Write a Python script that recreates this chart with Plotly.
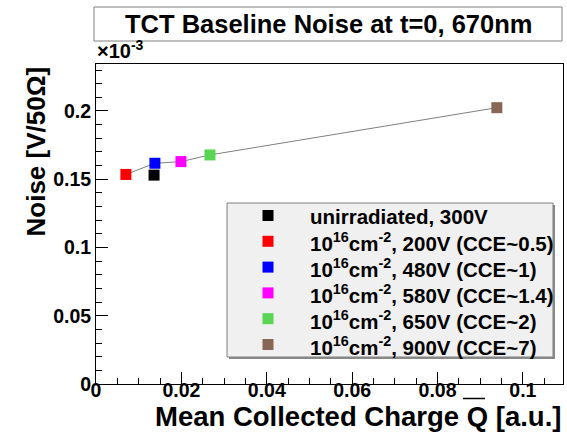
import plotly.graph_objects as go

# ---- data (noise in units of 1e-3 V/50 Ohm) ----
labels = [
    "unirradiated, 300V",
    "10<sup>16</sup>cm<sup>-2</sup>, 200V (CCE~0.5)",
    "10<sup>16</sup>cm<sup>-2</sup>, 480V (CCE~1)",
    "10<sup>16</sup>cm<sup>-2</sup>, 580V (CCE~1.4)",
    "10<sup>16</sup>cm<sup>-2</sup>, 650V (CCE~2)",
    "10<sup>16</sup>cm<sup>-2</sup>, 900V (CCE~7)",
]
mean_charge = [0.0136, 0.0070, 0.0138, 0.0199, 0.0267, 0.0939]
noise_e3 = [0.1530, 0.1535, 0.1617, 0.1629, 0.1678, 0.2024]
colors = ["#000000", "#ff0000", "#0000ff", "#ff00ff", "#59d454", "#876656"]
line_members = [1, 2, 3, 4, 5]  # irradiated points joined by the line

FONT = "Liberation Sans"

fig = go.Figure()

fig.add_trace(go.Scatter(
    x=[mean_charge[i] for i in line_members],
    y=[noise_e3[i] for i in line_members],
    mode="lines", line=dict(color="#808080", width=1),
    showlegend=False, hoverinfo="skip",
))

for lab, xv, yv, c in zip(labels, mean_charge, noise_e3, colors):
    fig.add_trace(go.Scatter(
        x=[xv], y=[yv], mode="markers", name=lab, showlegend=False,
        marker=dict(symbol="square", size=11, color=c, line=dict(width=0)),
    ))

axis_common = dict(
    showline=True, linecolor="#000000", linewidth=1, mirror=True,
    ticks="inside", tickcolor="#000000", ticklen=12, tickwidth=1,
    showgrid=False, zeroline=False,
    tickfont=dict(family=FONT, size=19.5, color="#000000", weight="bold"),
)

fig.update_xaxes(
    range=[0, 0.1094], tick0=0, dtick=0.02, ticklabelstandoff=-11,
    minor=dict(dtick=0.005, ticklen=6, tickcolor="#000000", ticks="inside"),
    **axis_common,
)
fig.update_yaxes(
    range=[0, 0.2344], tick0=0, dtick=0.05,
    minor=dict(dtick=0.01, ticklen=6, tickcolor="#000000", ticks="inside"),
    **axis_common,
)

# ---- manual legend (ROOT-style box) ----
plot_l, plot_r, plot_t, plot_b = 96, 563, 64, 384
def px_x(p):
    return (p - plot_l) / (plot_r - plot_l)
def px_y(p):
    return (plot_b - p) / (plot_b - plot_t)

leg_l, leg_r, leg_t, leg_b = 227, 553, 203, 357
row0, row_step = 215.5, 25.8
key_cx, key_half, text_x = 268, 5.5, 309

shapes = [
    # title box
    dict(type="rect", xref="paper", yref="paper",
         x0=px_x(94), x1=px_x(562), y0=px_y(41), y1=px_y(7),
         line=dict(color="#808080", width=1), fillcolor="white", layer="above"),
    # legend shadow
    dict(type="rect", xref="paper", yref="paper",
         x0=px_x(leg_l + 2), x1=px_x(leg_r + 2), y0=px_y(leg_b + 2), y1=px_y(leg_t + 2),
         line=dict(width=0), fillcolor="#8a8a8a", layer="above"),
    # legend box
    dict(type="rect", xref="paper", yref="paper",
         x0=px_x(leg_l), x1=px_x(leg_r), y0=px_y(leg_b), y1=px_y(leg_t),
         line=dict(color="#808080", width=1), fillcolor="#f0f0f0", layer="above"),
    # overline above Q in x title
    dict(type="line", xref="paper", yref="paper",
         x0=px_x(463), x1=px_x(485), y0=px_y(398.5), y1=px_y(398.5),
         line=dict(color="#000000", width=1.5)),
]

annotations = [
    dict(text="TCT Baseline Noise at t=0, 670nm", xref="paper", yref="paper",
         x=px_x(328), y=px_y(24), xanchor="center", yanchor="middle", showarrow=False,
         font=dict(family=FONT, size=25.5, color="#000000", weight="bold")),
    dict(text="×10<sup>-3</sup>", xref="paper", yref="paper",
         x=px_x(95), y=px_y(64), xanchor="left", yanchor="bottom", showarrow=False,
         font=dict(family=FONT, size=20, color="#000000", weight="bold")),
    dict(text="Mean Collected Charge Q [a.u.]", xref="paper", yref="paper",
         x=px_x(563), y=px_y(416), xanchor="right", yanchor="middle", showarrow=False,
         font=dict(family=FONT, size=27.5, color="#000000", weight="bold")),
    dict(text="Noise [V/50Ω]", xref="paper", yref="paper", textangle=-90,
         x=px_x(35), y=px_y(151.5), xanchor="center", yanchor="middle", showarrow=False,
         font=dict(family=FONT, size=26, color="#000000", weight="bold")),
]

for i, (lab, c) in enumerate(zip(labels, colors)):
    yc = row0 + i * row_step
    shapes.append(dict(
        type="rect", xref="paper", yref="paper",
        x0=px_x(key_cx - key_half), x1=px_x(key_cx + key_half),
        y0=px_y(yc + key_half), y1=px_y(yc - key_half),
        line=dict(width=0), fillcolor=c, layer="above"))
    annotations.append(dict(
        text=lab, xref="paper", yref="paper", x=px_x(text_x - 1), y=px_y(yc + 1),
        xanchor="left", yanchor="middle", showarrow=False,
        font=dict(family=FONT, size=20.5, color="#000000", weight="bold")))

fig.update_layout(
    width=567, height=433,
    margin=dict(l=plot_l, r=567 - plot_r, t=plot_t, b=433 - plot_b),
    paper_bgcolor="white", plot_bgcolor="white",
    showlegend=False,
    shapes=shapes,
    annotations=annotations,
)

fig.write_html("out.html")
